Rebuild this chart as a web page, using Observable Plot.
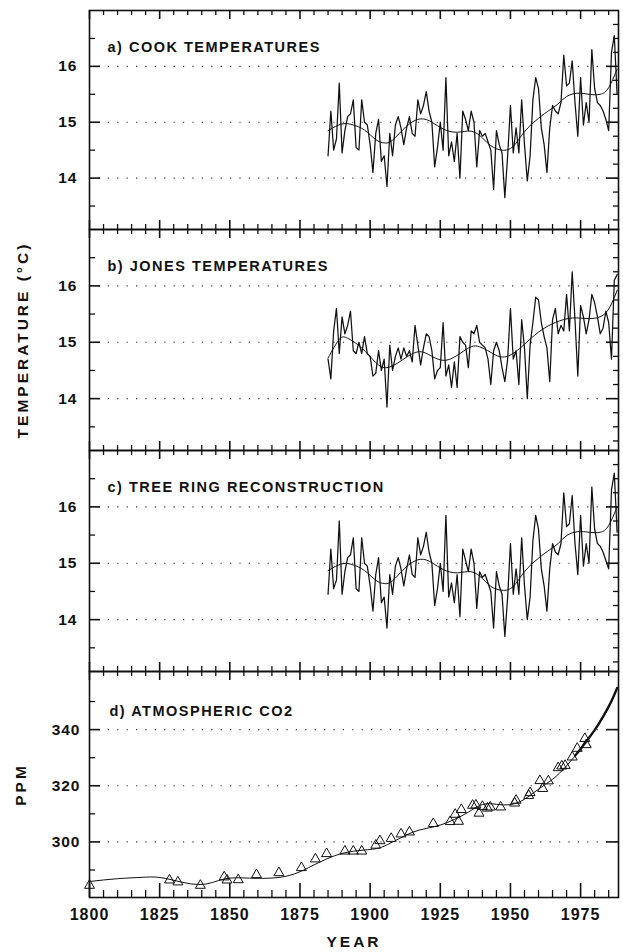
<!DOCTYPE html>
<html><head><meta charset="utf-8">
<script src="https://cdn.jsdelivr.net/npm/d3@7"></script>
<script src="https://cdn.jsdelivr.net/npm/@observablehq/plot@0.6"></script>
<style>
body{margin:0;background:#fff;}
#chart{width:623px;height:952px;font-family:"Liberation Sans",Arial,Helvetica,sans-serif;}
#chart svg{display:block;}
</style></head><body><div id="chart"></div>
<script>
// ---------- DATA ----------
const firstYear = 1885;
// a) Cook temperatures, annual 1885-1988 (deg C)
const cookTemps = [
 14.4,15.2,14.5,14.7,15.7,14.45,14.85,15.1,15.15,15.4,
 14.55,14.5,15.4,15.0,14.95,14.6,14.1,14.8,15.05,14.3,
 14.4,13.85,14.8,14.4,14.95,15.1,14.9,14.6,14.9,15.1,
 14.8,14.75,15.4,15.15,15.3,15.55,15.2,15.0,14.2,14.55,
 15.0,14.5,15.8,14.4,14.65,14.3,14.8,14.0,15.2,15.05,
 14.85,15.2,15.0,14.2,14.85,14.75,14.8,14.65,14.5,13.8,
 14.85,14.6,14.45,13.65,14.4,15.3,14.45,14.9,14.45,15.4,
 14.6,13.95,14.4,15.4,15.8,15.6,14.9,14.6,14.1,14.9,
 15.3,15.2,15.15,15.35,16.2,15.65,15.7,16.1,15.35,14.75,
 15.8,14.95,15.35,15.0,16.3,15.6,15.35,15.3,15.2,15.05,
 14.85,16.25,16.55,15.5
];
const cookSmoothYears = [1885,1890,1894,1898,1902,1905,1908,1913,1918,1922,1926,1931,1936,1940,1943,1947,1951,1955,1960,1964,1967,1970,1974,1978,1982,1985,1988];
const cookSmooth      = [14.85,14.97,14.95,14.86,14.69,14.63,14.68,14.93,15.06,15.0,14.88,14.82,14.84,14.72,14.58,14.5,14.57,14.83,15.07,15.22,15.33,15.46,15.52,15.5,15.5,15.62,15.95];

// b) Jones temperatures, annual 1885-1988 (deg C)
const jonesTemps = [
 14.7,14.35,15.2,15.6,14.8,15.45,15.15,15.3,15.55,14.85,
 14.8,15.0,14.8,15.1,14.8,14.75,14.4,14.45,14.85,14.5,
 14.7,13.85,14.95,14.5,14.75,14.9,14.7,14.9,14.75,14.85,
 14.65,15.3,14.95,14.6,14.9,15.15,15.1,14.85,14.35,14.5,
 14.55,15.35,14.4,14.6,14.2,14.65,14.2,15.1,15.0,14.95,
 14.55,15.2,15.15,15.3,15.0,14.95,14.9,14.7,14.25,14.85,
 15.0,14.85,14.55,14.3,14.7,15.6,14.7,14.85,14.25,15.4,
 14.9,14.0,14.95,15.35,15.8,15.75,15.35,15.1,14.9,14.3,
 15.4,15.6,15.15,15.3,15.2,15.85,15.2,16.25,15.4,14.4,
 15.65,15.45,15.15,15.4,15.85,15.7,15.45,15.15,15.25,15.55,
 15.35,14.7,16.1,16.2
];
const jonesSmoothYears = [1885,1889,1892,1897,1902,1906,1911,1917,1922,1927,1932,1936,1939,1943,1948,1954,1960,1966,1972,1978,1983,1986,1988];
const jonesSmooth      = [14.72,15.05,15.07,14.9,14.64,14.55,14.67,14.83,14.75,14.68,14.8,14.92,14.92,14.82,14.74,14.92,15.18,15.35,15.43,15.42,15.48,15.68,15.92];

// c) Tree ring reconstruction, annual 1885-1988 (deg C)
const treeRingTemps = [
 14.45,15.25,14.55,14.7,15.75,14.45,14.85,15.1,15.15,15.45,
 14.55,14.5,15.45,15.0,14.95,14.6,14.15,14.8,15.1,14.3,
 14.4,13.85,14.8,14.45,14.95,15.1,14.9,14.6,14.9,15.15,
 14.8,14.75,15.45,15.15,15.3,15.55,15.2,15.0,14.25,14.55,
 15.0,14.5,15.85,14.4,14.65,14.3,14.8,14.05,15.25,15.05,
 14.85,15.25,15.0,14.2,14.85,14.75,14.8,14.65,14.5,13.85,
 14.85,14.6,14.45,13.7,14.4,15.35,14.45,14.9,14.45,15.45,
 14.6,14.0,14.4,15.4,15.85,15.6,14.9,14.6,14.15,14.9,
 15.35,15.2,15.15,15.35,16.25,15.65,15.7,16.2,15.35,14.8,
 15.85,14.95,15.35,15.0,16.35,15.6,15.35,15.3,15.2,15.05,
 14.9,16.3,16.6,15.55
];
const treeSmoothYears = [1885,1890,1894,1898,1902,1905,1908,1913,1918,1922,1926,1931,1936,1940,1943,1947,1951,1955,1960,1964,1967,1970,1974,1978,1982,1985,1988];
const treeSmooth      = [14.87,14.99,14.97,14.87,14.7,14.64,14.69,14.94,15.07,15.01,14.89,14.83,14.85,14.73,14.59,14.52,14.59,14.85,15.09,15.24,15.35,15.49,15.56,15.55,15.55,15.67,16.0];

// d) Atmospheric CO2 (ppm): Siple ice-core samples (triangles)
const sipleYears = [1800,1828.5,1831.5,1839.5,1848,1849,1853,1859.5,1867.5,1875.5,1880.5,1884.5,1891,1894,1897,1902,1903.5,1907.5,1911,1914,1922.5,1928.5,1930.3,1931.5,1932.5,1936.5,1937.7,1938.8,1940,1941.8,1942.8,1946.5,1951.5,1952,1956.5,1957,1960.5,1961.5,1963.5,1967,1968.3,1969.5,1972,1973.8,1976.5,1977];
const siplePpm   = [284.5,286.4,285.7,284.5,287.5,286.4,286.5,288.3,289.0,290.8,293.9,295.8,296.7,296.7,296.7,298.8,300.4,301.2,302.8,303.5,306.5,307.2,309.8,307.3,311.5,313.0,313.1,310.2,312.6,312.0,312.4,312.4,313.8,314.8,316.5,317.5,321.8,319.0,321.7,326.4,327.0,327.2,330.2,333.3,336.8,334.6];
// fitted spline curve
const co2SmoothYears = [1800,1810,1819,1827,1839,1848,1857,1866,1873,1880,1890,1900,1905,1910,1915,1920,1925,1930,1935,1940,1945,1950,1955,1960,1965,1970,1975,1980,1985,1988];
const co2Smooth      = [285.9,286.9,287.4,287.0,284.8,286.8,287.1,287.2,288.6,291.8,295.9,297.3,298.5,301.0,303.4,304.8,306.0,308.0,310.6,313.3,313.4,313.3,315.2,318.8,322.3,327.1,333.1,339.8,347.8,354.8];
// Mauna Loa record (bold)
const maunaLoaYears = [1973,1975,1977,1980,1983,1986,1988];
const maunaLoaPpm   = [330.7,333.1,335.8,339.8,344.6,350.2,354.8];

// axis tick values
const xTickLabels = [1800,1825,1850,1875,1900,1925,1950,1975];
const xMinorTicks = [1805,1810,1815,1820,1830,1835,1840,1845,1855,1860,1865,1870,1880,1885,1890,1895,1905,1910,1915,1920,1930,1935,1940,1945,1955,1960,1965,1970,1980,1985];
const tempLabels = [14,15,16];
const tempLeftMinor = [13.5,14.5,15.5,16.5];
const tempRightMinor = [13.25,13.5,13.75,14.25,14.5,14.75,15.25,15.5,15.75,16.25,16.5,16.75];
const ppmLabels = [300,320,340];
const ppmMinor = [290,310,330,350];

// ---------- DRAWING ----------
const W = 623, ML = 89, MR = 5;
const PW = W - ML - MR;
const X0 = 1800, X1 = 1988.5;
const FONT = '"Liberation Sans",Arial,Helvetica,sans-serif';
const INK = "#111";
const NS = "http://www.w3.org/2000/svg";

// one root SVG; each Plot panel's content is moved into a translated group
const root = document.createElementNS(NS, "svg");
root.setAttribute("width", W);
root.setAttribute("height", 952);
root.setAttribute("viewBox", `0 0 ${W} 952`);
root.style.background = "#fff";
document.getElementById("chart").appendChild(root);

function mount(plotSvg, top) {
  const g = document.createElementNS(NS, "g");
  for (const a of ["class", "fill", "font-family", "font-size", "text-anchor"]) {
    if (plotSvg.hasAttribute(a)) g.setAttribute(a, plotSvg.getAttribute(a));
  }
  g.setAttribute("transform", `translate(0,${top})`);
  g.style.color = INK;
  g.style.fontFamily = FONT;
  for (const child of [...plotSvg.childNodes]) {
    if (child.nodeName.toLowerCase() === "style") continue;
    g.appendChild(child);
  }
  root.appendChild(g);
}

function series(values) { return values.map((v, i) => ({year: firstYear + i, value: v})); }
function pairs(xs, ys) { return xs.map((x, i) => ({year: x, value: ys[i]})); }

// border tick decorations (rules), pixel lengths converted through the scale spans
function tickMarks(fh, yDom, o) {
  const ux = (X1 - X0) / PW;
  const uy = (yDom[1] - yDom[0]) / fh;
  const ruleX = (vals, fromY, len, sw) =>
    Plot.ruleX(vals, {x: d => d, y1: fromY, y2: fromY + len * uy, stroke: INK, strokeWidth: sw});
  const ruleY = (vals, fromX, len, sw) =>
    Plot.ruleY(vals, {y: d => d, x1: fromX, x2: fromX + len * ux, stroke: INK, strokeWidth: sw});
  const marks = [
    ruleX(xTickLabels, yDom[1], -o.topMaj, 1.6),
    ruleX(xMinorTicks, yDom[1], -o.topMin, 1.3),
    ruleX(xTickLabels, yDom[0], o.botMaj, 1.6),
    ruleX(xMinorTicks, yDom[0], o.botMin, 1.3),
    ruleY(o.yMaj, X0, 11, 1.6),
    ruleY(o.yMinL, X0, 6, 1.3),
    ruleY(o.yMaj, X1, -12, 1.6)
  ];
  if (o.yMinR.length) marks.push(ruleY(o.yMinR, X1, -5, 1.3));
  return marks;
}

function tempPanel(values, smYears, smValues, title, top, h, extra = []) {
  const yDom = [13.08, 17.0];
  const svg = Plot.plot({
    width: W, height: h, marginLeft: ML, marginRight: MR, marginTop: 0, marginBottom: 0,
    style: {fontFamily: FONT, color: INK},
    x: {domain: [X0, X1], axis: null},
    y: {domain: yDom, axis: null},
    marks: [
      Plot.gridY(tempLabels, {y: d => d, stroke: "#333", strokeOpacity: 1, strokeWidth: 1.1, strokeDasharray: "1.2,8.2"}),
      Plot.frame({stroke: INK, strokeWidth: 1.6}),
      ...tickMarks(h, yDom, {topMaj: 9, topMin: 5, botMaj: 9, botMin: 5, yMaj: tempLabels, yMinL: tempLeftMinor, yMinR: tempRightMinor}),
      Plot.axisY({ticks: tempLabels, anchor: "left", tickSize: 0, tickPadding: 12, fontSize: 15.5, fontWeight: "bold", tickFormat: d => String(d), label: null}),
      Plot.line(series(values), {x: "year", y: "value", stroke: INK, strokeWidth: 1.25}),
      Plot.line(pairs(smYears, smValues), {x: "year", y: "value", stroke: INK, strokeWidth: 1, curve: "natural"}),
      Plot.text([title], {text: d => d, frameAnchor: "top-left", dx: 18, dy: 37, textAnchor: "start", lineAnchor: "middle", fontSize: 14.5, fontWeight: "bold", fill: INK}),
      ...extra
    ]
  });
  mount(svg, top);
}

tempPanel(cookTemps, cookSmoothYears, cookSmooth, "a)  COOK TEMPERATURES", 10, 219);
tempPanel(jonesTemps, jonesSmoothYears, jonesSmooth, "b)  JONES TEMPERATURES", 229, 221, [
  Plot.text(["TEMPERATURE (°C)"], {text: d => d, frameAnchor: "left", dx: -66, rotate: -90, textAnchor: "middle", lineAnchor: "middle", fontSize: 15.5, fontWeight: "bold", fill: INK})
]);
tempPanel(treeRingTemps, treeSmoothYears, treeSmooth, "c)  TREE RING RECONSTRUCTION", 450, 221);

// panel d
(function () {
  const fh = 226, mb = 56, h = fh + mb;
  const yDom = [280.2, 360.7];
  const svg = Plot.plot({
    width: W, height: h, marginLeft: ML, marginRight: MR, marginTop: 0, marginBottom: mb,
    style: {fontFamily: FONT, color: INK},
    x: {domain: [X0, X1], axis: null},
    y: {domain: yDom, axis: null},
    marks: [
      Plot.gridY(ppmLabels, {y: d => d, stroke: "#333", strokeOpacity: 1, strokeWidth: 1.1, strokeDasharray: "1.2,8.2"}),
      Plot.frame({stroke: INK, strokeWidth: 1.6}),
      ...tickMarks(fh, yDom, {topMaj: 9, topMin: 5, botMaj: 14, botMin: 7, yMaj: ppmLabels, yMinL: ppmMinor, yMinR: []}),
      Plot.axisY({ticks: ppmLabels, anchor: "left", tickSize: 0, tickPadding: 9, fontSize: 15.5, fontWeight: "bold", tickFormat: d => String(d), label: null}),
      Plot.axisX({ticks: xTickLabels, anchor: "bottom", tickSize: 0, tickPadding: 11, fontSize: 16, fontWeight: "bold", tickFormat: d => String(d), label: null}),
      Plot.line(pairs(co2SmoothYears, co2Smooth), {x: "year", y: "value", stroke: INK, strokeWidth: 1, curve: "natural"}),
      Plot.line(pairs(maunaLoaYears, maunaLoaPpm), {x: "year", y: "value", stroke: INK, strokeWidth: 2.4, curve: "natural"}),
      Plot.dot(pairs(sipleYears, siplePpm), {x: "year", y: "value", symbol: "triangle", r: 3.7, fill: "none", stroke: INK, strokeWidth: 1}),
      Plot.text(["d)  ATMOSPHERIC CO2"], {text: d => d, frameAnchor: "top-left", dx: 20, dy: 40, textAnchor: "start", lineAnchor: "middle", fontSize: 14.5, fontWeight: "bold", fill: INK}),
      Plot.text(["PPM"], {text: d => d, frameAnchor: "left", dx: -68, rotate: -90, textAnchor: "middle", lineAnchor: "middle", fontSize: 15.5, fontWeight: "bold", fill: INK}),
      Plot.text(["YEAR"], {text: d => d, frameAnchor: "bottom", dy: 45, textAnchor: "middle", lineAnchor: "middle", fontSize: 15.5, fontWeight: "bold", fill: INK})
    ]
  });
  mount(svg, 671);
})();

// letter spacing like the original lettering
root.querySelectorAll("text").forEach(t => {
  const s = t.textContent;
  if (/TEMPERATURE \(/.test(s) || s === "PPM" || s === "YEAR") t.setAttribute("letter-spacing", "3");
  else if (/[A-Z]{3}/.test(s)) t.setAttribute("letter-spacing", "1.5");
  else t.setAttribute("letter-spacing", "1");
});
</script></body></html>
